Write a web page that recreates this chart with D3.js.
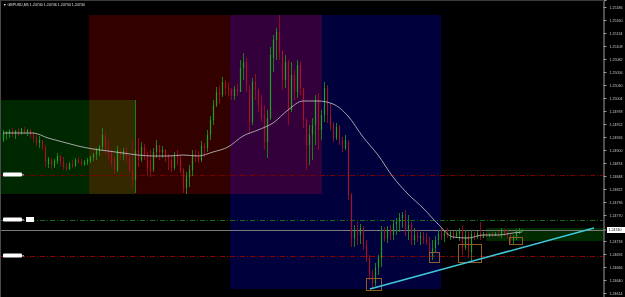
<!DOCTYPE html>
<html><head><meta charset="utf-8">
<script src="https://cdn.jsdelivr.net/npm/d3@7"></script>
<style>html,body{margin:0;padding:0;background:#000;overflow:hidden}svg{display:block}</style>
</head><body><svg id="c" width="625" height="297"></svg>
<script>
const symbolTitle = "GBPUSD,M5";
const lastOHLC = [1.24740, 1.24746, 1.24734, 1.24740];

const high = [1.2494,1.24938,1.24942,1.24944,1.2494,1.24944,1.24944,1.24946,1.24942,1.24942,
1.24936,1.24932,1.24928,1.2492,1.2491,1.24886,1.24884,1.24882,1.24894,1.2489,
1.24886,1.24874,1.24876,1.2488,1.24884,1.24886,1.24882,1.2488,1.24884,1.24888,
1.24894,1.24904,1.2491,1.24944,1.24936,1.2492,1.249,1.24888,1.24908,1.24902,
1.24904,1.24906,1.2489,1.2492,1.25,1.24924,1.24916,1.24912,1.24896,1.249,
1.24904,1.2492,1.2491,1.24908,1.24902,1.24892,1.2489,1.24896,1.249,1.2489,
1.24864,1.24856,1.2487,1.249,1.249,1.24898,1.24918,1.24914,1.2494,1.24968,
1.25,1.25026,1.25028,1.25046,1.2504,1.25036,1.25024,1.25028,1.25032,1.2508,
1.25094,1.25084,1.2503,1.25044,1.25052,1.25024,1.2501,1.2499,1.2498,1.25106,
1.2513,1.25144,1.2517,1.251,1.2509,1.2508,1.25076,1.2506,1.2508,1.25076,
1.25024,1.24964,1.2495,1.24964,1.2501,1.25014,1.2498,1.25036,1.2503,1.24994,
1.24956,1.24954,1.2495,1.24926,1.2493,1.2492,1.24814,1.2475,1.24756,1.24752,
1.24748,1.2472,1.2469,1.2466,1.24674,1.2469,1.24748,1.24746,1.24748,1.2475,
1.2476,1.24764,1.24774,1.24776,1.2478,1.2477,1.24756,1.24744,1.2474,1.24736,
1.24736,1.24734,1.24726,1.2472,1.24728,1.2474,1.24744,1.2474,1.24744,1.2474,
1.24738,1.2474,1.24744,1.24748,1.2474,1.24736,1.2474,1.24736,1.24738,1.24756,
1.24736,1.24734,1.24734,1.24736,1.24736,1.24738,1.24744,1.24742,1.2474,1.24734,
1.2473,1.24742,1.24744,1.24742];
const low = [1.24916,1.2492,1.24924,1.24926,1.24922,1.24928,1.2493,1.24932,1.24928,1.24924,
1.24916,1.24908,1.24904,1.249,1.24866,1.24864,1.24862,1.24864,1.24872,1.24868,
1.2486,1.24858,1.2486,1.24864,1.24866,1.24872,1.24868,1.24868,1.2487,1.24874,
1.24878,1.2488,1.24888,1.249,1.2489,1.2488,1.24866,1.24852,1.24856,1.2488,
1.2488,1.24876,1.24854,1.24828,1.24814,1.24866,1.24876,1.2488,1.2485,1.24846,
1.24856,1.24884,1.2488,1.24884,1.24876,1.2486,1.24856,1.2486,1.2487,1.24854,
1.24814,1.24812,1.24826,1.24848,1.24876,1.24874,1.24876,1.24886,1.24896,1.2492,
1.2495,1.24986,1.24992,1.25006,1.2501,1.25008,1.25,1.25,1.25008,1.25016,
1.2504,1.25016,1.24934,1.2495,1.25,1.24976,1.24956,1.249,1.24884,1.2496,
1.25056,1.2508,1.2508,1.2502,1.25024,1.2495,1.24976,1.25,1.25004,1.2501,
1.24944,1.2486,1.2487,1.2488,1.2491,1.249,1.2492,1.24956,1.24954,1.2494,
1.24916,1.2492,1.2491,1.24896,1.249,1.248,1.24706,1.24706,1.2471,1.24712,
1.247,1.24676,1.2464,1.24624,1.24628,1.2465,1.24666,1.24716,1.24714,1.2472,
1.2472,1.2473,1.24736,1.24744,1.24728,1.2472,1.2471,1.2471,1.24716,1.2471,
1.24712,1.2471,1.24676,1.2468,1.24696,1.2471,1.2472,1.24716,1.24724,1.2472,
1.24722,1.24724,1.24718,1.2469,1.247,1.24684,1.24676,1.2472,1.24722,1.2472,
1.24724,1.24726,1.24726,1.24726,1.24728,1.24726,1.24724,1.24728,1.24724,1.24714,
1.24712,1.2472,1.24732,1.24736];
const open = [1.2492,1.24932,1.24934,1.24938,1.24932,1.24938,1.24934,1.2494,1.24936,1.2494,
1.2493,1.24924,1.24914,1.24918,1.24906,1.24872,1.2488,1.24868,1.24878,1.24888,
1.24876,1.24866,1.24862,1.24872,1.24868,1.2488,1.24876,1.24872,1.24876,1.24878,
1.24886,1.2489,1.24898,1.24906,1.24928,1.249,1.24894,1.24884,1.2486,1.24896,
1.2489,1.24898,1.24886,1.2486,1.2484,1.249,1.2488,1.24906,1.2489,1.2488,
1.2486,1.24896,1.2491,1.24896,1.249,1.24886,1.2488,1.24864,1.24888,1.24884,
1.2486,1.24824,1.24846,1.2486,1.2489,1.24886,1.2488,1.24908,1.24904,1.2493,
1.2496,1.2499,1.25016,1.2501,1.25036,1.25024,1.2502,1.25008,1.25022,1.25016,
1.25064,1.25076,1.2502,1.24956,1.25036,1.2502,1.2499,1.2497,1.24916,1.24964,
1.25084,1.2512,1.25136,1.25096,1.2504,1.25076,1.2498,1.2505,1.25016,1.2507,
1.25024,1.2496,1.2491,1.2493,1.2495,1.25,1.2494,1.2497,1.25024,1.2497,
1.2495,1.24924,1.24946,1.2492,1.24904,1.24916,1.2481,1.24724,1.2474,1.2473,
1.24744,1.2471,1.24684,1.2465,1.24634,1.24664,1.24684,1.24736,1.24724,1.2474,
1.2473,1.24752,1.24756,1.24764,1.2477,1.2474,1.2475,1.2472,1.2473,1.24724,
1.24728,1.2472,1.24714,1.24688,1.24704,1.2472,1.24732,1.24728,1.24734,1.2473,
1.24736,1.24728,1.24734,1.24738,1.24704,1.24728,1.24696,1.24732,1.24728,1.24734,
1.24724,1.24732,1.24728,1.2473,1.24728,1.24732,1.2473,1.2474,1.24734,1.2473,
1.2472,1.24724,1.24738,1.2474];
const close = [1.24934,1.24936,1.24938,1.24932,1.24938,1.24934,1.24942,1.24936,1.2494,1.2493,
1.24924,1.24914,1.2492,1.24906,1.24876,1.24882,1.2487,1.24878,1.24888,1.24876,
1.24866,1.24862,1.24872,1.24868,1.2488,1.24876,1.24872,1.24876,1.2488,1.24886,
1.2489,1.249,1.24906,1.2493,1.249,1.24894,1.24874,1.2486,1.249,1.2489,
1.24898,1.24886,1.2486,1.2484,1.249,1.2488,1.24906,1.2489,1.24864,1.24856,
1.24896,1.2491,1.24896,1.249,1.24886,1.24884,1.24864,1.24888,1.24884,1.2486,
1.24824,1.24848,1.2486,1.2489,1.24886,1.2488,1.24908,1.24904,1.2493,1.2496,
1.2499,1.25016,1.2501,1.25036,1.25024,1.2502,1.25008,1.25022,1.25016,1.25064,
1.25076,1.2503,1.24956,1.25036,1.2502,1.2499,1.24964,1.24916,1.24964,1.2509,
1.2512,1.25136,1.25096,1.2504,1.25076,1.2498,1.2505,1.25016,1.2507,1.25024,
1.2496,1.2491,1.2493,1.2495,1.25,1.2494,1.2497,1.25024,1.2497,1.2495,
1.24924,1.24946,1.2492,1.24904,1.2492,1.2481,1.24724,1.2474,1.2473,1.24744,
1.2471,1.24684,1.2465,1.24634,1.24664,1.24684,1.24736,1.24724,1.2474,1.2473,
1.24752,1.24756,1.24764,1.2477,1.2474,1.2475,1.2472,1.2473,1.24724,1.24728,
1.2472,1.24714,1.24688,1.24704,1.2472,1.24732,1.24728,1.24734,1.2473,1.24736,
1.24728,1.24734,1.24738,1.24704,1.24728,1.24696,1.24732,1.24728,1.24734,1.24724,
1.24732,1.24728,1.2473,1.24728,1.24732,1.2473,1.2474,1.24734,1.2473,1.2472,
1.24724,1.24738,1.2474,1.2474];

const maIndex = [0,5,10,15,20,25,30,35,40,45,50,55,60,65,70,75,80,85,90,95,100,105,110,115,120,125,130,135,140,145,150,155,160,165,170,173];
const maValue = [1.24934,1.24934,1.24934,1.24924,1.24916,1.24908,1.24902,1.24898,1.24894,1.2489,1.24888,1.24888,1.2489,1.24888,1.24896,1.24906,1.24928,1.2494,1.24954,1.2498,1.24998,1.24998,1.24992,1.24968,1.24926,1.2489,1.24846,1.24812,1.24784,1.24752,1.24726,1.24724,1.2473,1.2473,1.24734,1.24736];

const zoneStart = [-1, 28.7, 75.7, 161];
const zoneEnd   = [44, 106.3, 146, 200];
const zoneTop   = [1.2500, 1.2517, 1.2517, 1.24744];
const zoneBottom= [1.24812, 1.24812, 1.24622, 1.24718];
const zoneColors = ["#002800", "#330000", "#00003c", "#002a00"];

const boxStart = [121, 142, 151.7, 168.7];
const boxEnd   = [126, 145.3, 159.3, 173];
const boxTop   = [1.24644, 1.24696, 1.24712, 1.24726];
const boxBottom= [1.2462, 1.24676, 1.24676, 1.24712];

const trendT = [122.3, 197];
const trendP = [1.24622, 1.24744];

const levelPrices = [1.2485, 1.2476, 1.24688];
const levelColors = ["#7a0000", "#1a6a1a", "#8b0000"];
const bidPrice = 1.2474;

const tickLabels = ["1.25186","1.25160","1.25134","1.25108","1.25082","1.25056","1.25030","1.25004","1.24978","1.24952","1.24926","1.24900","1.24874","1.24848","1.24822","1.24796","1.24770","1.24744","1.24718","1.24692","1.24666","1.24640","1.24614"];

const W = 625, H = 297, plotR = 603;
const svg = d3.select("#c");
svg.append("rect").attr("width", W).attr("height", H).attr("fill", "#000");

const x = d3.scaleLinear().domain([-1, 200]).range([0, plotR]);
const y = d3.scaleLinear().domain([1.25200, 1.24606]).range([0, H]);

// zones
const zg = svg.append("g").style("isolation", "isolate");
zoneStart.forEach((t0, i) => {
  zg.append("rect")
    .attr("x", x(t0)).attr("y", y(zoneTop[i]))
    .attr("width", x(zoneEnd[i]) - x(t0))
    .attr("height", y(zoneBottom[i]) - y(zoneTop[i]))
    .attr("fill", zoneColors[i])
    .style("mix-blend-mode", "screen");
});

// level lines
levelPrices.forEach((p, i) => {
  svg.append("line").attr("x1", 0).attr("x2", plotR)
    .attr("y1", Math.round(y(p)) + 0.5).attr("y2", Math.round(y(p)) + 0.5)
    .attr("stroke", levelColors[i]).attr("stroke-width", 1)
    .attr("stroke-dasharray", "5,2,1,2");
});
// bid line
svg.append("line").attr("x1", 0).attr("x2", plotR)
  .attr("y1", Math.round(y(bidPrice)) + 0.5).attr("y2", Math.round(y(bidPrice)) + 0.5)
  .attr("stroke", "#7a7a7a").attr("stroke-width", 1);

// candles
const cg = svg.append("g");
high.forEach((h, i) => {
  const up = close[i] >= open[i];
  const cx = Math.round(x(i)) + 0.5;
  cg.append("line").attr("x1", cx).attr("x2", cx)
    .attr("y1", y(h)).attr("y2", y(low[i]))
    .attr("stroke", up ? "#178217" : "#8a0e20").attr("stroke-width", 1);
  const t = Math.min(y(open[i]), y(close[i])), b = Math.max(y(open[i]), y(close[i]));
  cg.append("rect").attr("x", cx - 0.6).attr("y", t)
    .attr("width", 1.2).attr("height", Math.max(1, b - t))
    .attr("fill", up ? "#21a321" : "#a81228");
});

// moving average
svg.append("path")
  .datum(maIndex.map((t, k) => [t, maValue[k]]))
  .attr("fill", "none").attr("stroke", "#b4b4b4").attr("stroke-width", 0.9)
  .attr("d", d3.line().x(d => x(d[0])).y(d => y(d[1])).curve(d3.curveMonotoneX));

// boxes
boxStart.forEach((t0, i) => {
  svg.append("rect")
    .attr("x", Math.round(x(t0)) + 0.5).attr("y", Math.round(y(boxTop[i])) + 0.5)
    .attr("width", Math.round(x(boxEnd[i]) - x(t0)))
    .attr("height", Math.round(y(boxBottom[i]) - y(boxTop[i])))
    .attr("fill", "none").attr("stroke", "#8f5e26").attr("stroke-width", 1);
});

// trend line
svg.append("line")
  .attr("x1", x(trendT[0])).attr("y1", y(trendP[0]))
  .attr("x2", x(trendT[1])).attr("y2", y(trendP[1]))
  .attr("stroke", "#3fc9dd").attr("stroke-width", 1.5);

// left white line labels
levelPrices.forEach((p, i) => {
  const yy = y(p);
  svg.append("rect").attr("x", 3).attr("y", yy - 2.5).attr("width", 19).attr("height", 4)
    .attr("rx", 1).attr("fill", "#ffffff");
  svg.append("rect").attr("x", 22).attr("y", yy - 1).attr("width", 2).attr("height", 1.5)
    .attr("fill", "#888");
  if (i === 1) {
    svg.append("rect").attr("x", 26).attr("y", yy - 3).attr("width", 8).attr("height", 5)
      .attr("fill", "#ffffff");
  }
});

// frame
svg.append("line").attr("x1", 0.5).attr("x2", 0.5).attr("y1", 0).attr("y2", H)
  .attr("stroke", "#4a4a4a");
svg.append("line").attr("x1", 0).attr("x2", plotR).attr("y1", 0.5).attr("y2", 0.5)
  .attr("stroke", "#3a3a3a");

// right axis (tick hidden behind the bid label in the reference is omitted)
const bidY = y(bidPrice);
const shownTicks = tickLabels.filter(t => Math.abs(y(+t) - bidY) > 5);
const axis = d3.axisRight(y)
  .tickValues(shownTicks.map(Number))
  .tickFormat(d => d.toFixed(5))
  .tickSize(3).tickPadding(3);
const ag = svg.append("g").attr("transform", `translate(${plotR + 0.5},0)`).call(axis);
ag.select(".domain").attr("stroke", "#9a9a9a");
ag.selectAll(".tick line").attr("stroke", "#9a9a9a");
ag.selectAll(".tick text").attr("fill", "#c8c8c8")
  .style("font-family", "Liberation Sans, Arial, sans-serif").style("font-size", "3.6px");

// bid price label
svg.append("line").attr("x1", plotR).attr("x2", plotR + 3).attr("y1", bidY).attr("y2", bidY)
  .attr("stroke", "#9a9a9a");
svg.append("rect").attr("x", plotR + 4).attr("y", bidY - 3).attr("width", 18).attr("height", 6)
  .attr("fill", "#ffffff");
svg.append("text").attr("x", plotR + 5.5).attr("y", bidY + 1.3)
  .attr("fill", "#000").style("font-family", "Liberation Sans, Arial, sans-serif")
  .style("font-size", "3.6px").text(bidPrice.toFixed(5));

// title
svg.append("text").attr("x", 3).attr("y", 6)
  .attr("fill", "#e0e0e0").style("font-family", "Liberation Sans, Arial, sans-serif")
  .style("font-size", "3.6px")
  .text("▼ " + symbolTitle + "  " + lastOHLC.map(v => v.toFixed(5)).join(" "));
</script>
</body></html>
